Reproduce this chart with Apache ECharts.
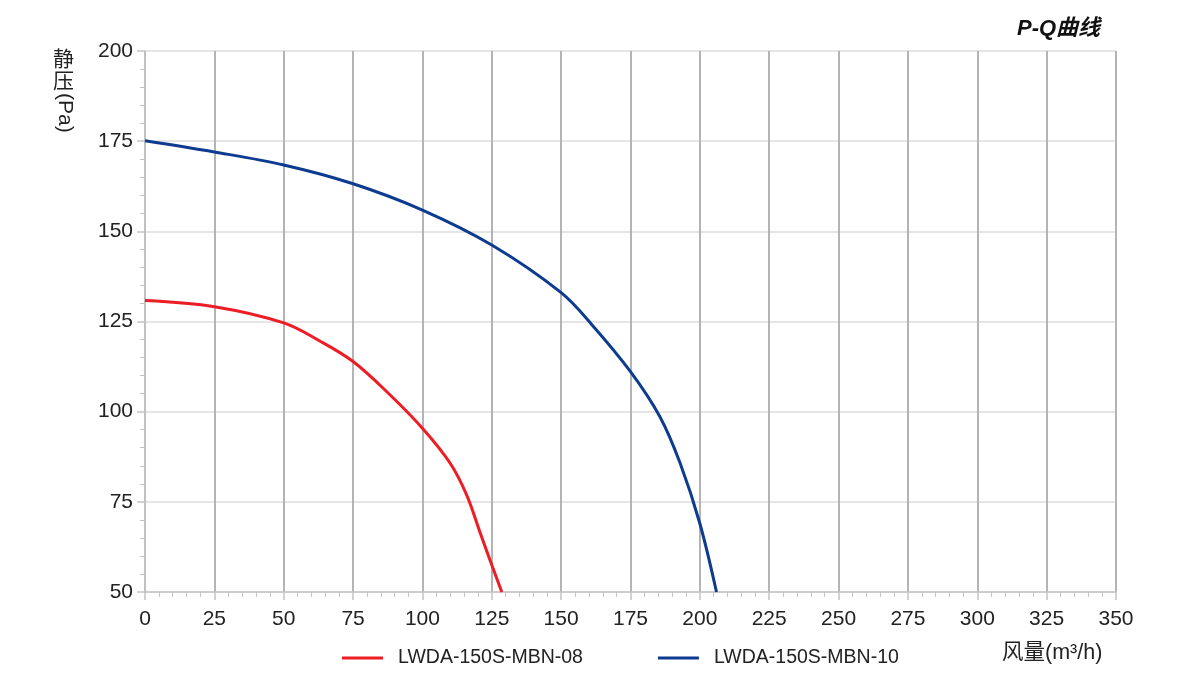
<!DOCTYPE html>
<html>
<head>
<meta charset="utf-8">
<script src="https://cdn.jsdelivr.net/npm/echarts@6/dist/echarts.min.js"></script>
<style>
  html, body { margin: 0; padding: 0; background: #fff; }
  #chart { width: 1200px; height: 680px; }
</style>
</head>
<body>
<div id="chart"></div>
<script>
// 风量 (m3/h) / 静压 (Pa)
const seriesNames = ['LWDA-150S-MBN-08', 'LWDA-150S-MBN-10'];
const flow08 = [0, 25, 50, 63, 75, 88, 100, 110, 116, 121, 125, 128.6];
const press08 = [130.8, 129.1, 124.6, 119.6, 113.9, 104.9, 95.4, 85.7, 76.8, 66, 57.5, 50];
const flow10 = [0, 25, 50, 75, 100, 125, 150, 161, 175, 185.6, 192.9, 200, 206];
const press10 = [175.1, 172, 168.4, 163.2, 155.9, 146.2, 133, 124.2, 111.1, 98.6, 85.7, 69, 50];
const xTicks = [0, 25, 50, 75, 100, 125, 150, 175, 200, 225, 250, 275, 300, 325, 350];
const yTicks = [50, 75, 100, 125, 150, 175, 200];
const colors = ['#ee1c25', '#0c3b8f'];

const pairs = (xs, ys) => xs.map((x, i) => [x, ys[i]]);

const myChart = echarts.init(document.getElementById('chart'));
const font = 'Liberation Sans, Arial, sans-serif';
const cjk = 'Liberation Sans, Noto Sans CJK SC, sans-serif';
const option = {
    animation: false,
    color: colors,
    grid: { left: 145, right: 84, top: 51, bottom: 88 },
    legend: {
        top: 643,
        left: 337,
        itemWidth: 41,
        itemHeight: 3,
        itemGap: 75,
        icon: 'rect',
        data: seriesNames,
        textStyle: { color: '#222', fontSize: 19.5, fontFamily: font, padding: [0, 0, 0, 10] }
    },
    xAxis: {
        type: 'value',
        min: xTicks[0],
        max: xTicks[xTicks.length - 1],
        interval: 25,
        axisLine: { lineStyle: { color: '#c4c4c4', width: 1.5 } },
        axisTick: { length: 8, lineStyle: { color: '#c4c4c4', width: 1.5 } },
        minorTick: { show: true, splitNumber: 5, length: 5, lineStyle: { color: '#c4c4c4' } },
        axisLabel: { color: '#222', fontSize: 21, fontFamily: font, margin: 17,
            formatter: v => xTicks.includes(v) ? String(v) : '' },
        splitLine: { show: true, lineStyle: { color: '#b4b4b4', width: 2 } }
    },
    yAxis: {
        type: 'value',
        min: yTicks[0],
        max: yTicks[yTicks.length - 1],
        interval: 25,
        axisLine: { show: true, lineStyle: { color: '#c4c4c4', width: 1.5 } },
        axisTick: { show: true, length: 8, lineStyle: { color: '#c4c4c4', width: 1.5 } },
        minorTick: { show: true, splitNumber: 5, length: 5, lineStyle: { color: '#c4c4c4' } },
        axisLabel: { color: '#222', fontSize: 21, fontFamily: font, margin: 12 },
        splitLine: { show: true, lineStyle: { color: '#dcdcdc', width: 1.5 } }
    },
    graphic: [
        { type: 'text', left: 1017, top: 18,
          style: { text: 'P-Q曲线', fontSize: 22, fontWeight: 'bold', fontStyle: 'italic',
                   fontFamily: cjk, fill: '#111' } },
        { type: 'text', left: 53, top: 48,
          style: { text: '静', fontSize: 21, fontFamily: 'Noto Sans CJK SC', fill: '#222' } },
        { type: 'text', left: 53, top: 70,
          style: { text: '压', fontSize: 21, fontFamily: 'Noto Sans CJK SC', fill: '#222' } },
        { type: 'text', x: 75, y: 93, rotation: -Math.PI / 2,
          style: { text: '(Pa)', fontSize: 21, fontFamily: font, fill: '#222' } },
        { type: 'text', left: 1002, top: 642,
          style: { text: '风量(m³/h)', fontSize: 21.5, fontFamily: cjk, fill: '#222' } }
    ],
    series: [
        {
            name: seriesNames[0],
            type: 'line',
            smooth: 0.35,
            showSymbol: false,
            lineStyle: { width: 3 },
            data: pairs(flow08, press08)
        },
        {
            name: seriesNames[1],
            type: 'line',
            smooth: 0.35,
            showSymbol: false,
            lineStyle: { width: 3 },
            data: pairs(flow10, press10)
        }
    ]
};
myChart.setOption(option);
</script>
</body>
</html>
